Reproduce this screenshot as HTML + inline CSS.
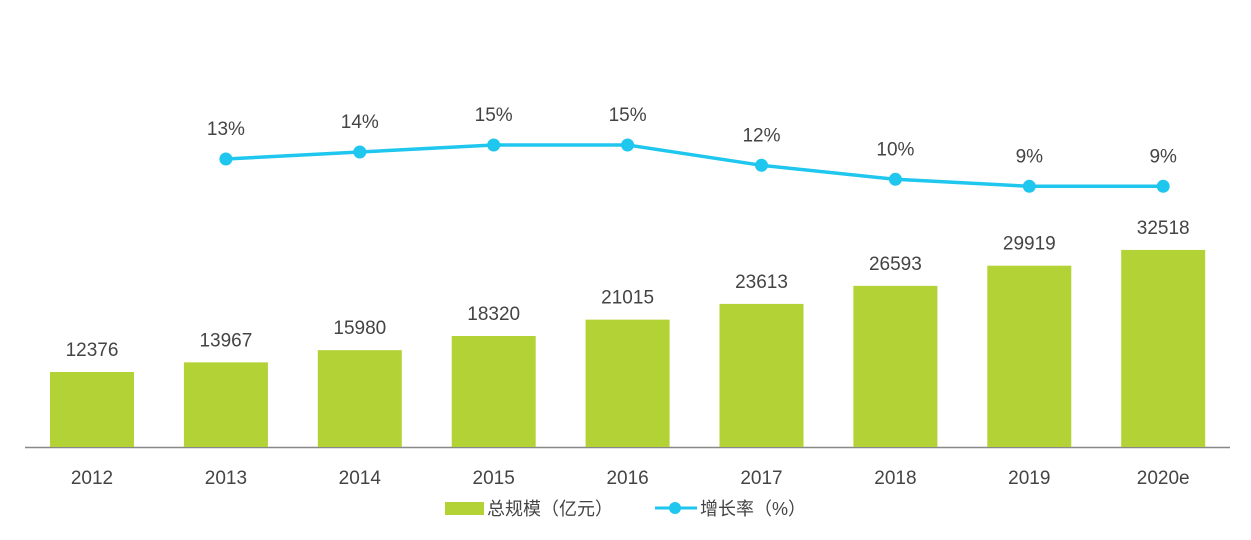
<!DOCTYPE html>
<html><head><meta charset="utf-8"><style>
html,body{margin:0;padding:0;background:#fff;}
svg text{font-family:"Liberation Sans","Noto Sans CJK SC",sans-serif;fill:#444;}
</style></head><body>
<svg id="chart" width="1251" height="535" viewBox="0 0 1251 535" xmlns="http://www.w3.org/2000/svg">
<line x1="25" y1="447.5" x2="1230" y2="447.5" stroke="#888" stroke-width="1.5"/>
<g id="bars"></g><g id="xlabels"></g><g id="line"></g>
<g>
<rect x="445" y="502" width="39" height="13" fill="#b2d235"/>
<text x="487" y="515" font-size="18">总规模（亿元）</text>
<line x1="655" y1="508" x2="697" y2="508" stroke="#1fc6ee" stroke-width="3"/>
<circle cx="675" cy="508" r="6" fill="#1fc6ee"/>
<text x="700" y="515" font-size="18">增长率（%）</text>
</g>
</svg>
<script>
const categories=["2012","2013","2014","2015","2016","2017","2018","2019","2020e"];
const sizes=[12376,13967,15980,18320,21015,23613,26593,29919,32518];
const growth=[null,12.9,13.9,14.9,14.9,12.0,10.0,9.0,9.0];
const growthLabels=["","13%","14%","15%","15%","12%","10%","9%","9%"];
const NS="http://www.w3.org/2000/svg";
const x=i=>92+i*133.9;
const yb=v=>447-v*0.00606;
const yl=v=>159-(v-12.9)*7;
function mk(t,a,p){const e=document.createElementNS(NS,t);for(const k in a)e.setAttribute(k,a[k]);p.appendChild(e);return e;}
const gb=document.getElementById('bars'),gx=document.getElementById('xlabels'),gl=document.getElementById('line');
categories.forEach((c,i)=>{
  const r=mk('rect',{x:x(i)-42,y:yb(sizes[i]),width:84,height:447-yb(sizes[i]),fill:'#b2d235'},gb);
  
  
  const t=mk('text',{x:x(i),y:yb(sizes[i])-16,'text-anchor':'middle','font-size':19},gb);t.textContent=sizes[i];
  
  
  const l=mk('text',{x:x(i),y:484,'text-anchor':'middle','font-size':19},gx);l.textContent=c;
  
  
});
const pts=[];growth.forEach((g,i)=>{if(g!=null)pts.push([x(i),yl(g),i]);});
const pl=mk('polyline',{points:pts.map(p=>p[0]+','+p[1]).join(' '),fill:'none',stroke:'#1fc6ee','stroke-width':3.5},gl);


pts.forEach(p=>{
  const c=mk('circle',{cx:p[0],cy:p[1],r:6.5,fill:'#1fc6ee'},gl);
  
  
  const t=mk('text',{x:p[0],y:p[1]-24,'text-anchor':'middle','font-size':19},gl);t.textContent=growthLabels[p[2]];
  
  
});
</script>
</body></html>
